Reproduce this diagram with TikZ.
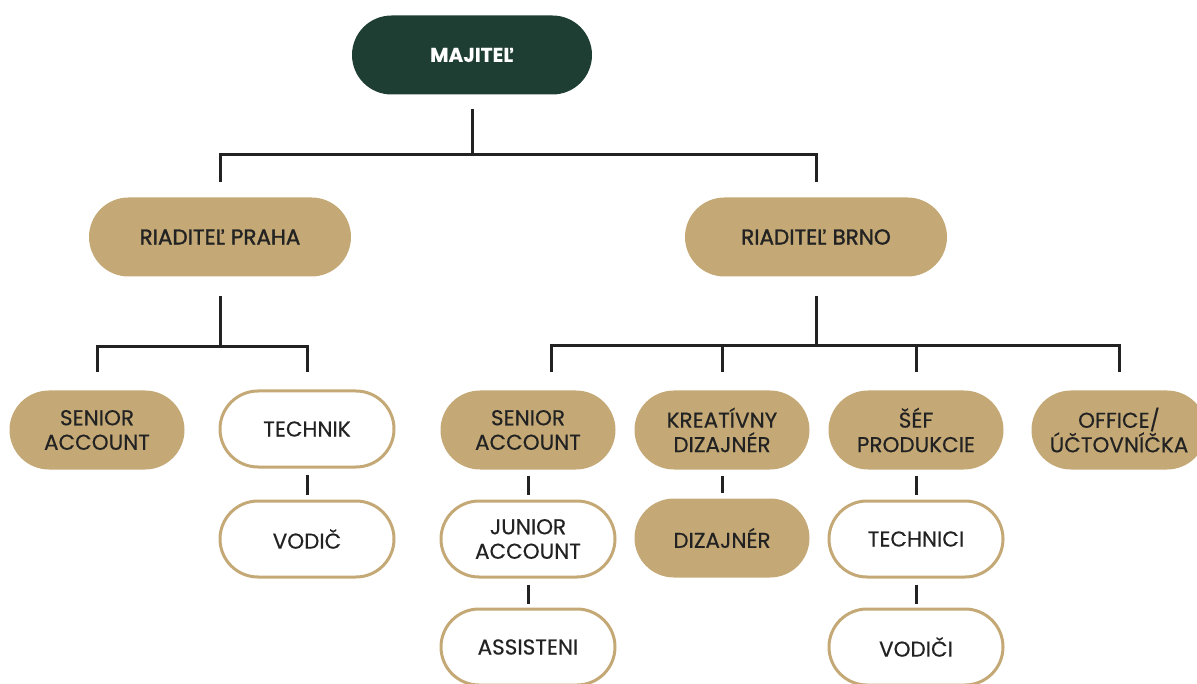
\documentclass[tikz,border=0pt]{standalone}
\usepackage{fontspec}
\setmainfont{Poppins}[FakeBold=0.4]
\newfontfamily\headfont{Poppins}[FakeBold=1.4]
\newfontfamily\ownerfont{Poppins}[FakeBold=0.2]
\usetikzlibrary{calc}
\definecolor{gold}{HTML}{C4A977}
\definecolor{pine}{HTML}{1E3D33}
\definecolor{ink}{HTML}{222222}
\tikzset{
  box/.style={rectangle, rounded corners=39.5pt, minimum height=79pt,
    align=center, inner sep=0pt, text=ink,
    font=\fontsize{21.5}{24.5}\selectfont},
  solidbox/.style={box, fill=gold, minimum width=175pt},
  hollowbox/.style={box, draw=gold, line width=3pt, fill=white,
    minimum width=174pt, minimum height=76pt, rounded corners=38pt},
  headbox/.style={box, fill=gold, minimum width=262pt,
    font=\headfont\fontsize{21.5}{24}\selectfont},
  topbox/.style={box, fill=pine, text=white, minimum width=240pt,
    font=\ownerfont\bfseries\fontsize{20}{24}\selectfont},
  conn/.style={draw=ink, line width=3pt},
}
\begin{document}
\begin{tikzpicture}[x=1pt, y=-1pt]
\useasboundingbox (0,0) rectangle (1197,684);

% owner
\node[topbox] (maj) at (472,55) {MAJITEĽ};

% directors
\node[headbox] (praha) at (220,237) {RIADITEĽ PRAHA};
\node[headbox] (brno)  at (816,237) {RIADITEĽ BRNO};

% first level under directors
\node[solidbox]  (psa) at (97,430)   {SENIOR\\ACCOUNT};
\node[hollowbox] (tech) at (307,429) {TECHNIK};
\node[solidbox]  (bsa) at (528,430)  {SENIOR\\ACCOUNT};
\node[solidbox]  (kre) at (722,430)  {KREATÍVNY\\DIZAJNÉR};
\node[solidbox]  (sef) at (916,430)  {ŠÉF\\PRODUKCIE};
\node[solidbox]  (off) at (1119,430) {OFFICE/\\ÚČTOVNÍČKA};

% second level
\node[hollowbox] (vod) at (307,539) {VODIČ};
\node[hollowbox] (jun) at (528,539) {JUNIOR\\ACCOUNT};
\node[solidbox]  (diz) at (722,538) {DIZAJNÉR};
\node[hollowbox] (tcn) at (916,539) {TECHNICI};

% third level
\node[hollowbox] (asi) at (528,647) {ASSISTENI};
\node[hollowbox] (vdi) at (916,647) {VODIČI};

% owner -> directors
\coordinate (topbus) at ($(maj.south)+(0,61)$);
\draw[conn] ($(maj.south)+(0,14)$) -- (topbus);
\draw[conn] ($(praha.north)+(0,-15)$) |- ($(brno.north)+(0,-43)$) -- ($(brno.north)+(0,-15)$);

% Praha -> staff
\coordinate (pbus) at ($(praha.south)+(0,68)$);
\draw[conn] ($(praha.south)+(0,19)$) -- (pbus);
\draw[conn] ($(psa.north)+(0,-18)$) |- ($(tech.north)+(0,-43)$) -- ($(tech.north)+(0,-17)$);

% Brno -> staff
\coordinate (bbus) at ($(brno.south)+(0,68)$);
\coordinate (bsadrop) at (551,390);
\draw[conn] ($(brno.south)+(0,19)$) -- (bbus);
\draw[conn] ($(bsadrop)+(0,-18)$) |- ($(off.north)+(0,-45)$) -- ($(off.north)+(0,-18)$);
\draw[conn] (bbus -| kre.north) -- ($(kre.north)+(0,-18)$);
\draw[conn] (bbus -| sef.north) -- ($(sef.north)+(0,-18)$);

% chains below
\draw[conn, shorten <=6pt, shorten >=5pt] (tech) -- (vod);
\draw[conn, shorten <=6pt, shorten >=5pt] (bsa) -- (jun);
\draw[conn, shorten <=6pt, shorten >=5pt] (kre) -- (diz);
\draw[conn, shorten <=6pt, shorten >=5pt] (sef) -- (tcn);
\draw[conn, shorten <=6pt, shorten >=4pt] (jun) -- (asi);
\draw[conn, shorten <=6pt, shorten >=4pt] (tcn) -- (vdi);
\end{tikzpicture}
\end{document}
